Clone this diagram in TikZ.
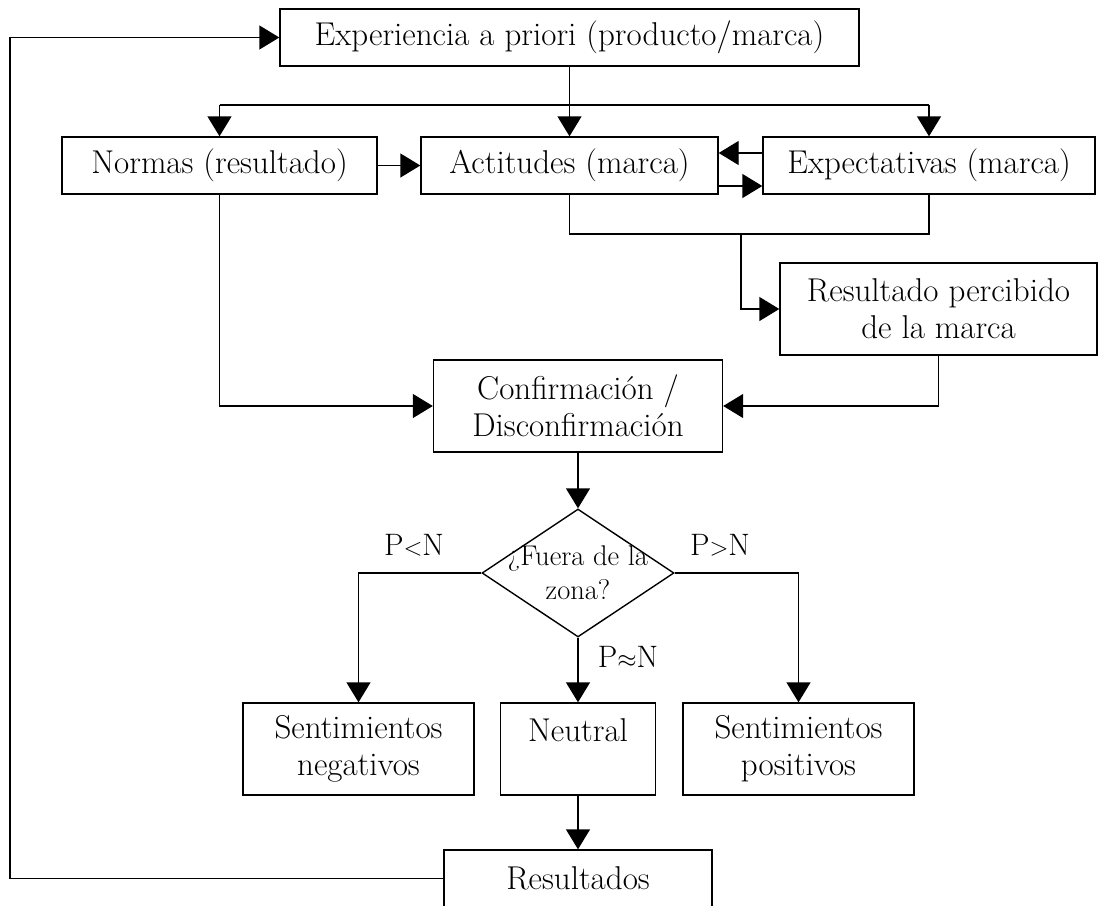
\documentclass[tikz,border=0pt]{standalone}
\usetikzlibrary{arrows.meta,shapes.geometric}
\begin{document}
\begin{tikzpicture}[x=1pt,y=-1pt,
  every node/.style={font=\fontsize{33}{37}\selectfont},
  box/.style={draw,line width=1.4pt,rectangle,inner sep=0pt,align=center},
  ln/.style={line width=1.4pt},
  arr/.style={line width=1.4pt,-{Triangle[length=20pt,width=24pt]}},
  lbl/.style={inner sep=0pt,font=\fontsize{31}{37}\selectfont}]
\useasboundingbox (0,0) rectangle (1099,905);
\clip (0,0) rectangle (1099,905);

% boxes
\node[box,minimum width=579pt,minimum height=57pt] (exp) at (569.5,37.5) {Experiencia a priori (producto/marca)};
\node[box,minimum width=315pt,minimum height=57pt] (norm) at (219.5,165.5) {Normas (resultado)};
\node[box,minimum width=297pt,minimum height=57pt] (act) at (569.5,165.5) {Actitudes (marca)};
\node[box,minimum width=332pt,minimum height=57pt] (expc) at (929,165.5) {Expectativas (marca)};
\node[box,minimum width=317pt,minimum height=92pt] (res) at (938.5,309) {Resultado percibido\\de la marca};
\node[box,minimum width=289pt,minimum height=92pt] (conf) at (578,406) {Confirmación /\\Disconfirmación};
\node[draw,diamond,line width=1.4pt,inner sep=0pt,minimum width=192pt,minimum height=128pt,
  label={[align=center,font=\fontsize{28.5}{34}\selectfont]center:¿Fuera de la\\zona?}] (dia) at (578,573) {};
\node[box,minimum width=231pt,minimum height=92pt] (neg) at (358.5,749) {Sentimientos\\negativos};
\node[box,minimum width=155pt,minimum height=92pt] (neu) at (578,749) {Neutral\\\mbox{}};
\node[box,minimum width=231pt,minimum height=92pt] (pos) at (798.5,749) {Sentimientos\\positivos};
\node[box,minimum width=268pt,minimum height=57pt] (out) at (578,878.5) {Resultados};

% branch labels
\node[lbl] (lt) at (414,545) {P${<}$N};
\node[lbl] (gt) at (720,545) {P${>}$N};
\node[lbl] (eq) at (628,657) {P${\approx}$N};

% connectors
\coordinate (split) at (569,105);
\coordinate (join) at (741,234);
\coordinate (loop) at (10,0);
\draw[arr] (exp.south) -- (act.north);
\draw[ln] (norm.north |- split) -- (expc.north |- split);
\draw[arr] (norm.north |- split) -- (norm.north);
\draw[arr] (expc.north |- split) -- (expc.north);
\draw[arr] (norm.east) -- (act.west);
\draw[arr] ([yshift=12.5pt]expc.west) -- ([yshift=12.5pt]act.east);
\draw[arr] ([yshift=-20.5pt]act.east) -- ([yshift=-20.5pt]expc.west);
\draw[ln] (act.south) |- (join);
\draw[ln] (expc.south) |- (join);
\draw[arr] (join) |- (res.west);
\draw[arr] (res.south) |- (conf.east);
\draw[arr] (norm.south) |- (conf.west);
\draw[arr] (conf.south) -- (dia.north);
\draw[arr] (dia.west) -| (neg.north);
\draw[arr] (dia.east) -| (pos.north);
\draw[arr] (dia.south) -- (neu.north);
\draw[arr] (neu.south) -- (out.north);
\draw[arr] (out.west) -| (loop |- exp.west) -- (exp.west);
\end{tikzpicture}
\end{document}
